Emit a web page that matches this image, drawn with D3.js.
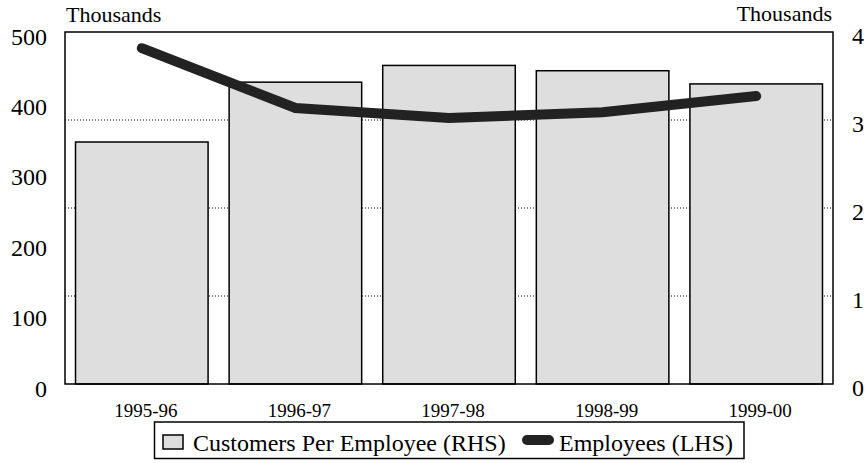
<!DOCTYPE html>
<html lang="en">
<head>
  <meta charset="UTF-8">
  <script src="https://cdn.jsdelivr.net/npm/d3@7"></script>
  <style>
    body { margin: 0; background: #fff; }
    svg text { font-family: "Liberation Serif", Tinos, "Times New Roman", Times, "DejaVu Serif", serif; fill: #000; }
  </style>
</head>
<body>
<div id="container"></div>
<script>
// Data
const categories = ["1995-96", "1996-97", "1997-98", "1998-99", "1999-00"];
const customersPerEmployee = [2.75, 3.43, 3.62, 3.56, 3.41];   // RHS, thousands
const employees = [477, 392, 378, 386, 409];                    // LHS, thousands
const leftTicks = [0, 100, 200, 300, 400, 500];
const rightTicks = [0, 1, 2, 3, 4];
const gridTicks = [1, 2, 3];

const width = 866, height = 463;
const plot = { left: 65, right: 833, top: 32, bottom: 384 };
const serif = '"Liberation Serif", Tinos, "Times New Roman", Times, "DejaVu Serif", serif';

const svg = d3.create("svg")
    .attr("width", width)
    .attr("height", height)
    .attr("font-family", serif);

// Scales
const x = d3.scaleBand()
    .domain(categories)
    .range([plot.left, plot.right])
    .paddingInner(0.137)
    .paddingOuter(0.0685);

const yLeft = d3.scaleLinear().domain([0, 500]).range([plot.bottom, plot.top]);
const yRight = d3.scaleLinear().domain([0, 4]).range([plot.bottom, plot.top]);

// Dotted gridlines (behind bars)
svg.append("g")
  .selectAll("line")
  .data(gridTicks)
  .join("line")
    .attr("x1", plot.left)
    .attr("x2", plot.right)
    .attr("y1", d => yRight(d))
    .attr("y2", d => yRight(d))
    .attr("stroke", "#000")
    .attr("stroke-width", 1)
    .attr("stroke-dasharray", "1,2");

// Bars
svg.append("g")
  .selectAll("rect")
  .data(customersPerEmployee)
  .join("rect")
    .attr("x", (d, i) => x(categories[i]))
    .attr("y", d => yRight(d))
    .attr("width", x.bandwidth())
    .attr("height", d => yRight(0) - yRight(d))
    .attr("fill", "#dedede")
    .attr("stroke", "#000")
    .attr("stroke-width", 1.5);

// Frame
svg.append("rect")
    .attr("x", plot.left)
    .attr("y", plot.top)
    .attr("width", plot.right - plot.left)
    .attr("height", plot.bottom - plot.top)
    .attr("fill", "none")
    .attr("stroke", "#000")
    .attr("stroke-width", 1.5);

// Employees line
const line = d3.line()
    .x((d, i) => x(categories[i]) + x.bandwidth() / 2)
    .y(d => yLeft(d));

svg.append("path")
    .datum(employees)
    .attr("d", line)
    .attr("fill", "none")
    .attr("stroke", "#222")
    .attr("stroke-width", 10)
    .attr("stroke-linecap", "round")
    .attr("stroke-linejoin", "miter");

// Axes
function styleAxis(g, size) {
  g.select(".domain").remove();
  g.attr("font-family", serif);
  g.selectAll("text")
      .style("font-size", size + "px")
      .style("font-family", serif);
}

const leftAxis = svg.append("g")
    .attr("transform", `translate(${plot.left},0)`)
    .call(d3.axisLeft(yLeft).tickValues(leftTicks).tickFormat(d3.format("d")).tickSize(0).tickPadding(18));
styleAxis(leftAxis, 24);
leftAxis.selectAll("text").attr("dy", "0.5em");

const rightAxis = svg.append("g")
    .attr("transform", `translate(${plot.right},0)`)
    .call(d3.axisRight(yRight).tickValues(rightTicks).tickFormat(d3.format("d")).tickSize(0).tickPadding(19));
styleAxis(rightAxis, 24);
rightAxis.selectAll("text").attr("dy", "0.46em");

const xAxis = svg.append("g")
    .attr("transform", `translate(0,${plot.bottom})`)
    .call(d3.axisBottom(x).tickSize(0).tickPadding(19.5));
styleAxis(xAxis, 19);
xAxis.selectAll("text").attr("dx", 4);

// Unit labels
svg.append("text")
    .attr("x", 66)
    .attr("y", 21.5)
    .style("font-size", "22px")
    .text("Thousands");

svg.append("text")
    .attr("x", 832)
    .attr("y", 21)
    .attr("text-anchor", "end")
    .style("font-size", "22px")
    .text("Thousands");

// Legend
const legend = svg.append("g");
legend.append("rect")
    .attr("x", 154.5)
    .attr("y", 422)
    .attr("width", 589.5)
    .attr("height", 36.5)
    .attr("fill", "#fff")
    .attr("stroke", "#000")
    .attr("stroke-width", 1.5);

legend.append("rect")
    .attr("x", 163)
    .attr("y", 435)
    .attr("width", 20)
    .attr("height", 14)
    .attr("fill", "#dedede")
    .attr("stroke", "#000")
    .attr("stroke-width", 1.5);

legend.append("text")
    .attr("x", 193)
    .attr("y", 451)
    .style("font-size", "24px")
    .text("Customers Per Employee (RHS)");

legend.append("line")
    .attr("x1", 527)
    .attr("x2", 549)
    .attr("y1", 440)
    .attr("y2", 440)
    .attr("stroke", "#222")
    .attr("stroke-width", 10)
    .attr("stroke-linecap", "round");

legend.append("text")
    .attr("x", 559)
    .attr("y", 451)
    .style("font-size", "24px")
    .text("Employees (LHS)");

document.getElementById("container").appendChild(svg.node());
</script>
</body>
</html>
